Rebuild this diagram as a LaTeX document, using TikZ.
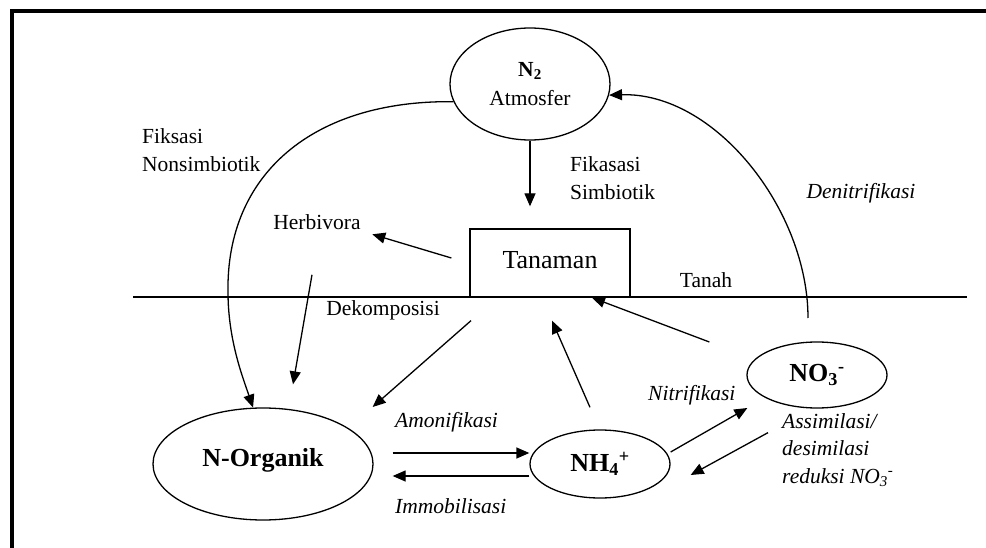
\documentclass[tikz,border=0pt]{standalone}
\usepackage{fontspec}
\setmainfont{Liberation Serif}
\usetikzlibrary{arrows.meta, calc, positioning, shapes}

\tikzset{
    lbl/.style={font=\fontsize{21.5}{28.5}\selectfont, align=left, inner sep=0pt},
    ilbl/.style={lbl, font=\fontsize{21.5}{27.5}\selectfont\itshape},
    pool/.style={draw, ellipse, line width=1.3pt, inner sep=0pt, align=center, font=\fontsize{26}{30}\selectfont\bfseries},
    flow/.style={-{Triangle[length=13pt,width=11pt]}, line width=1.3pt},
}

\begin{document}
\begin{tikzpicture}[x=1pt, y=-1pt]
    \useasboundingbox (0,0) rectangle (986,548);
    \fill[white] (0,0) rectangle (986,548);
    \draw[line width=4pt] (11.5,548) -- (11.5,11.5) -- (986,11.5);

    % pools
    \node[pool, minimum width=160, minimum height=112, font=\fontsize{21.5}{29}\selectfont] (n2) at (530,84) {\textbf{N\textsubscript{2}}\\Atmosfer};
    \node[pool, minimum width=220, minimum height=112, text depth=14pt] (norg) at (263,464) {N-Organik};
    \node[pool, minimum width=140, minimum height=68] (nh4) at (600,464) {NH\textsubscript{4}\textsuperscript{+}};
    \node[pool, minimum width=140, minimum height=66] (no3) at (817,375) {NO\textsubscript{3}\textsuperscript{-}};
    \node[draw, line width=1.3pt, minimum width=160, minimum height=68, text depth=7pt, font=\fontsize{26}{30}\selectfont] (tanaman) at (550,263) {Tanaman};

    % soil surface
    \draw[line width=1.3pt] (133,297) -- (967,297);

    % labels
    \node[lbl, anchor=west] (nonsimb) at (142,150) {Fiksasi\\Nonsimbiotik};
    \node[lbl, anchor=west] (simb) at (570,178) {Fikasasi\\Simbiotik};
    \node[lbl] (herb) at (317,222) {Herbivora};
    \node[lbl] (tanah) at (706,280) {Tanah};
    \node[lbl] (dekomp) at (383,310) {Dekomposisi};
    \node[ilbl] (denitr) at (861,193) {Denitrifikasi};
    \node[ilbl, anchor=west] (amon) at (395,422) {Amonifikasi};
    \node[ilbl, anchor=west] (immob) at (395,506) {Immobilisasi};
    \node[ilbl, anchor=west] (nitr) at (648,395) {Nitrifikasi};
    \node[ilbl, anchor=west] (assim) at (782,450) {Assimilasi/\\desimilasi\\reduksi NO\textsubscript{3}\textsuperscript{-}};

    \coordinate (denstart) at (808,318);

    % flows
    \draw[flow, shorten >=22pt] (n2.south) -- (n2.south |- tanaman.north);
    \draw[flow] ($(tanaman.west)+(-18,-5)$) -- ($(herb.east)+(11.5,12.3)$);
    \draw[flow] ($(herb.south)+(-5,45)$) -- ($(norg.north)+(30,-23)$);
    \draw[flow] ($(tanaman.south)+(-79,23)$) -- ($(norg.east)+(-1,-57)$);
    \draw[flow] ($(norg.east)+(19,-11)$) -- ($(nh4.west)+(0,-11)$);
    \draw[flow] ($(nh4.west)+(0,12)$) -- ($(norg.east)+(19,12)$);
    \draw[flow] ($(nh4.north)+(-10,-22)$) -- ($(tanaman.south)+(2,23)$);
    \draw[flow] ($(no3.west)+(-37,-33)$) -- ($(tanaman.south)+(42,0)$);
    \draw[flow] ($(nh4.east)+(0,-12)$) -- ($(no3.west)+(1,33)$);
    \draw[flow] ($(no3.south)+(-49,24)$) -- ($(nh4.east)+(20,11)$);

    \draw[flow] (denstart) .. controls (808,210) and (715,92) .. (n2.-8);
    \draw[flow] (n2.193) .. controls (312,100) and (226,175) .. (228,292)
        .. controls (228,340) and (243,378) .. (norg.100);

\end{tikzpicture}
\end{document}
